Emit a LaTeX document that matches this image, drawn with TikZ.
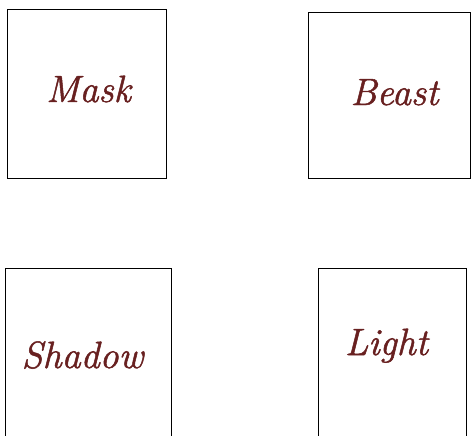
\documentclass[tikz,border=0pt]{standalone}
\usepackage{fontspec}
\newfontfamily\wordfont[FakeBold=1.3]{Latin Modern Roman}
\definecolor{wine}{RGB}{104,32,32}
\tikzset{
  frame/.style={draw=black, line width=0.9pt, fill=white},
  word/.style={text=wine, font=\wordfont\fontsize{38}{44}\selectfont\itshape, anchor=base, inner sep=0pt}
}
\begin{document}
\begin{tikzpicture}[x=1pt,y=-1pt]
\useasboundingbox (0,0) rectangle (471,436);
\path[frame] (7.5,9.5) rectangle (166.5,178.5) coordinate (maskbox);
\path[frame] (308,12) rectangle (470,178.5) coordinate (beastbox);
\path[frame] (5,268) rectangle (171.5,450) coordinate (shadowbox);
\path[frame] (318,268) rectangle (466.5,450) coordinate (lightbox);
\node[word] (mask) at (88.5,102) {Mask};
\node[word] (beast) at (394.5,105) {Beast};
\node[word] (shadow) at (82.5,368) {Shadow};
\node[word] (light) at (386.5,355) {Light};
\end{tikzpicture}
\end{document}
